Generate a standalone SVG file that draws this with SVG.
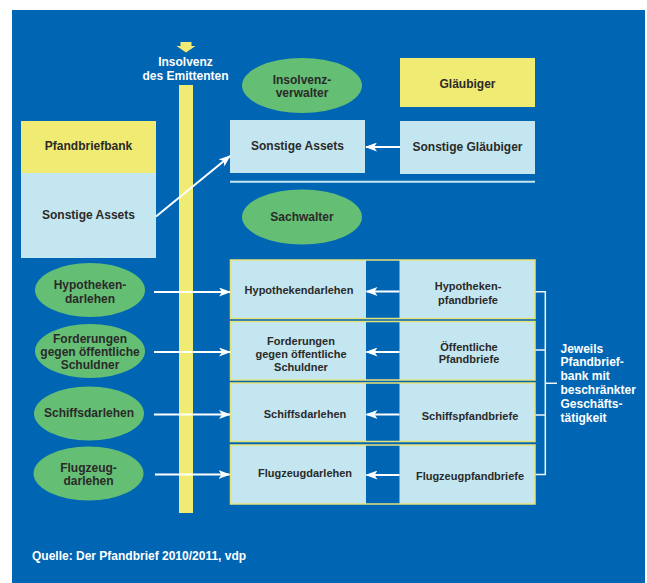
<svg xmlns="http://www.w3.org/2000/svg" width="647" height="583" viewBox="0 0 647 583">
<defs>
<style>
.t{font-family:"Liberation Sans",Arial,sans-serif;font-weight:bold;fill:#2b2a29;text-anchor:middle}
.s12{font-size:12px}
.s11{font-size:11px}
.w{font-family:"Liberation Sans",Arial,sans-serif;font-weight:bold;fill:#ffffff;font-size:12px}
.lb{fill:#c3e6f0}
.yl{fill:#f0eb72}
.gr{fill:#64be74}
.row{fill:none;stroke:#e6e27a;stroke-width:1.5}
.ar{stroke:#ffffff;stroke-width:2;fill:none}
.br{stroke:#eef6fa;stroke-width:1.5;fill:none}
</style>
<marker id="ah" viewBox="0 0 12 9" refX="11" refY="4.5" markerWidth="12" markerHeight="9" orient="auto" markerUnits="userSpaceOnUse">
<path d="M0,0 L12,4.5 L0,9 L3,4.5 z" fill="#ffffff"/>
</marker>
</defs>
<rect x="0" y="0" width="647" height="583" fill="#ffffff"/>
<rect x="12" y="10" width="633" height="573" fill="#0066b3"/>

<g id="insolvenz-emittent">
<rect x="180.5" y="42" width="11" height="5" class="yl"/>
<path d="M176.5,46 L195.5,46 L186,52.5 z" class="yl"/>
<text class="w" x="185.5" y="66" text-anchor="middle">Insolvenz</text>
<text class="w" x="185.5" y="79.5" text-anchor="middle">des Emittenten</text>
<rect x="179" y="85" width="14" height="428" class="yl"/>
</g>

<g id="insolvenzverwalter">
<ellipse cx="302" cy="85.5" rx="60" ry="27.5" class="gr"/>
<text class="t s12" x="302" y="83.5">Insolvenz-</text>
<text class="t s12" x="302" y="96.5">verwalter</text>
</g>

<g id="glaeubiger">
<rect x="400" y="58" width="135" height="49" class="yl"/>
<text class="t s12" x="467.5" y="88">Gläubiger</text>
</g>

<g id="pfandbriefbank">
<rect x="21" y="121" width="135" height="52" class="yl"/>
<text class="t s12" x="88.5" y="150">Pfandbriefbank</text>
<rect x="21" y="173" width="135" height="85" class="lb"/>
<text class="t s12" x="88.5" y="219">Sonstige Assets</text>
</g>

<g id="sonstige-assets">
<rect x="230" y="120" width="135" height="53" class="lb"/>
<text class="t s12" x="297.5" y="150">Sonstige Assets</text>
</g>

<g id="sonstige-glaeubiger">
<rect x="400" y="121" width="135" height="53" class="lb"/>
<text class="t s12" x="467.5" y="151">Sonstige Gläubiger</text>
</g>

<g id="trennlinie">
<line x1="230" y1="181.7" x2="535" y2="181.7" stroke="#c3e6f0" stroke-width="2"/>
</g>

<g id="sachwalter">
<ellipse cx="302" cy="217" rx="60" ry="27.5" class="gr"/>
<text class="t s12" x="302" y="221">Sachwalter</text>
</g>

<g id="hypothekendarlehen-oval">
<ellipse cx="90" cy="290" rx="55" ry="27" class="gr"/>
<text class="t s12" x="90" y="289">Hypotheken-</text>
<text class="t s12" x="90" y="302.5">darlehen</text>
</g>
<g id="forderungen-oval">
<ellipse cx="90" cy="351" rx="55" ry="27" class="gr"/>
<text class="t s12" x="90" y="342.5">Forderungen</text>
<text class="t s12" x="90" y="355.5">gegen öffentliche</text>
<text class="t s12" x="90" y="369">Schuldner</text>
</g>
<g id="schiffsdarlehen-oval">
<ellipse cx="89" cy="413.5" rx="55" ry="27" class="gr"/>
<text class="t s12" x="89" y="416.5">Schiffsdarlehen</text>
</g>
<g id="flugzeugdarlehen-oval">
<ellipse cx="88.5" cy="473.5" rx="55" ry="27" class="gr"/>
<text class="t s12" x="88.5" y="471.5">Flugzeug-</text>
<text class="t s12" x="88.5" y="485">darlehen</text>
</g>

<g id="row-hypotheken">
<rect x="230.5" y="260" width="135.5" height="58.5" class="lb"/>
<rect x="399.5" y="260" width="135.5" height="58.5" class="lb"/>
<rect x="230.5" y="260" width="304.5" height="58.5" class="row"/>
<text class="t s11" x="299" y="294">Hypothekendarlehen</text>
<text class="t s11" x="468" y="290">Hypotheken-</text>
<text class="t s11" x="468" y="304">pfandbriefe</text>
</g>
<g id="row-oeffentlich">
<rect x="230.5" y="321.5" width="135.5" height="58.5" class="lb"/>
<rect x="399.5" y="321.5" width="135.5" height="58.5" class="lb"/>
<rect x="230.5" y="321.5" width="304.5" height="58.5" class="row"/>
<text class="t s11" x="301" y="345.2">Forderungen</text>
<text class="t s11" x="301" y="358.2">gegen öffentliche</text>
<text class="t s11" x="301" y="371.2">Schuldner</text>
<text class="t s11" x="469" y="350.5">Öffentliche</text>
<text class="t s11" x="469" y="363.2">Pfandbriefe</text>
</g>
<g id="row-schiffe">
<rect x="230.5" y="383" width="135.5" height="58.5" class="lb"/>
<rect x="399.5" y="383" width="135.5" height="58.5" class="lb"/>
<rect x="230.5" y="383" width="304.5" height="58.5" class="row"/>
<text class="t s11" x="305" y="418">Schiffsdarlehen</text>
<text class="t s11" x="470" y="420">Schiffspfandbriefe</text>
</g>
<g id="row-flugzeuge">
<rect x="230.5" y="445" width="135.5" height="59" class="lb"/>
<rect x="399.5" y="445" width="135.5" height="59" class="lb"/>
<rect x="230.5" y="445" width="304.5" height="59" class="row"/>
<text class="t s11" x="305" y="477.2">Flugzeugdarlehen</text>
<text class="t s11" x="470" y="480">Flugzeugpfandbriefe</text>
</g>

<g id="connectors">
<line class="ar" x1="156" y1="216.5" x2="230" y2="156" marker-end="url(#ah)"/>
<line class="ar" x1="400" y1="147" x2="366" y2="147" marker-end="url(#ah)"/>
<line class="ar" x1="154" y1="292" x2="230" y2="292" marker-end="url(#ah)"/>
<line class="ar" x1="154" y1="352" x2="230" y2="352" marker-end="url(#ah)"/>
<line class="ar" x1="154" y1="414.5" x2="230" y2="414.5" marker-end="url(#ah)"/>
<line class="ar" x1="155" y1="474.5" x2="229.5" y2="474.5" marker-end="url(#ah)"/>
<line class="ar" x1="399.5" y1="291.5" x2="366.5" y2="291.5" marker-end="url(#ah)"/>
<line class="ar" x1="399.5" y1="352" x2="366.5" y2="352" marker-end="url(#ah)"/>
<line class="ar" x1="399.5" y1="414.5" x2="366.5" y2="414.5" marker-end="url(#ah)"/>
<line class="ar" x1="399.5" y1="475" x2="366.5" y2="475" marker-end="url(#ah)"/>
<path class="br" d="M535.5,291.7 H545.3 V474.5 H535.5 M535.5,350 H545.3 M535.5,415 H545.3 M545.3,383.3 H557"/>
</g>

<g id="jeweils">
<text class="w" x="560.5" y="352.5">Jeweils</text>
<text class="w" x="560.5" y="366.4">Pfandbrief-</text>
<text class="w" x="560.5" y="380.3">bank mit</text>
<text class="w" x="560.5" y="394.2">beschränkter</text>
<text class="w" x="560.5" y="408.1">Geschäfts-</text>
<text class="w" x="560.5" y="422">tätigkeit</text>
</g>

<g id="quelle">
<text class="w" x="32" y="560">Quelle: Der Pfandbrief 2010/2011, vdp</text>
</g>
</svg>
